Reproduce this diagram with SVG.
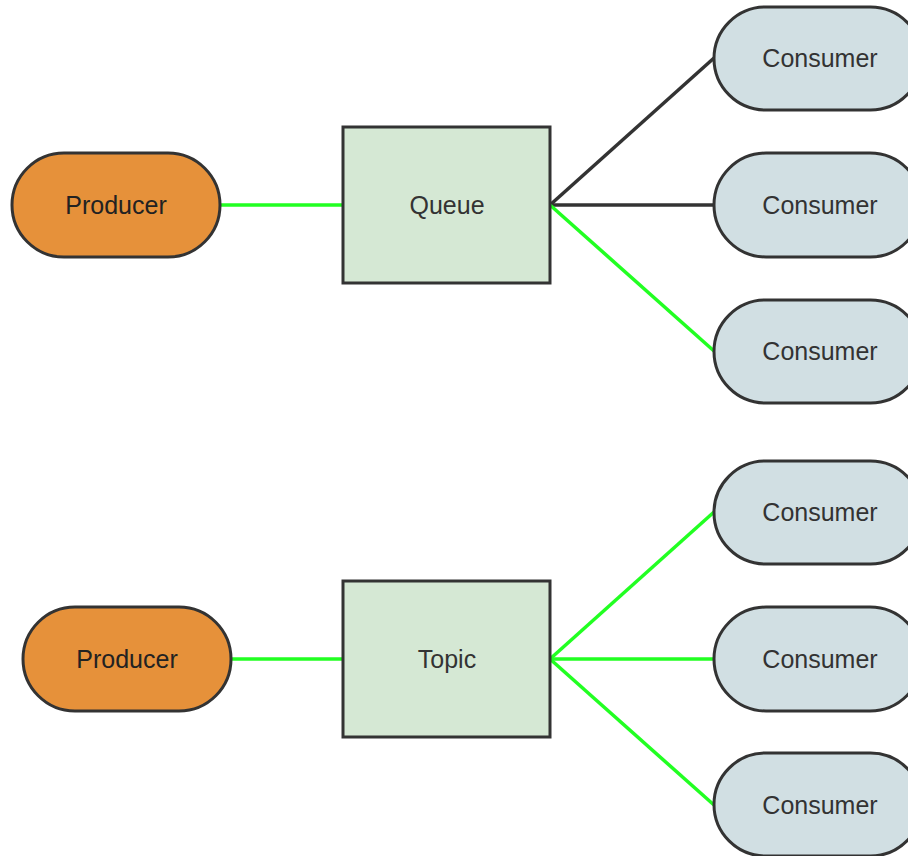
<svg xmlns="http://www.w3.org/2000/svg" width="908" height="856" viewBox="0 0 908 856">
  <style>
    .producer { fill: #e6913a; stroke: #333333; stroke-width: 3; }
    .box { fill: #d5e8d4; stroke: #333333; stroke-width: 3; }
    .consumer { fill: #d1dfe3; stroke: #333333; stroke-width: 3; }
    .label { font-family: "Liberation Sans", Arial, sans-serif; font-size: 25px; fill: #333333; text-anchor: middle; dominant-baseline: central; }
    .producer-label { fill: #222222; }
    .edge { fill: none; stroke-width: 3.5; }
    .active { stroke: #22ff22; }
    .idle { stroke: #333333; }
  </style>
  <rect width="908" height="856" fill="#ffffff"/>

  <!-- connectors -->
  <g id="connectors">
    <line class="edge active" x1="220" y1="205" x2="343" y2="205"/>
    <line class="edge idle" x1="550" y1="205" x2="714" y2="58"/>
    <line class="edge idle" x1="550" y1="205" x2="714" y2="205"/>
    <line class="edge active" x1="550" y1="205" x2="714" y2="351"/>
    <line class="edge active" x1="231" y1="659" x2="343" y2="659"/>
    <line class="edge active" x1="550" y1="659" x2="714" y2="512"/>
    <line class="edge active" x1="550" y1="659" x2="714" y2="659"/>
    <line class="edge active" x1="550" y1="659" x2="714" y2="805"/>
  </g>

  <!-- queue section -->
  <g id="producer-queue">
    <rect class="producer" x="12" y="153" width="208" height="104" rx="52"/>
    <text class="label producer-label" x="116" y="205">Producer</text>
  </g>
  <g id="queue">
    <rect class="box" x="343" y="127" width="207" height="156"/>
    <text class="label" x="447" y="205">Queue</text>
  </g>
  <g id="queue-consumer-1">
    <rect class="consumer" x="714" y="7" width="208" height="103" rx="51.5"/>
    <text class="label" x="820" y="58">Consumer</text>
  </g>
  <g id="queue-consumer-2">
    <rect class="consumer" x="714" y="153" width="208" height="104" rx="52"/>
    <text class="label" x="820" y="205">Consumer</text>
  </g>
  <g id="queue-consumer-3">
    <rect class="consumer" x="714" y="300" width="208" height="103" rx="51.5"/>
    <text class="label" x="820" y="351">Consumer</text>
  </g>

  <!-- topic section -->
  <g id="producer-topic">
    <rect class="producer" x="23" y="607" width="208" height="104" rx="52"/>
    <text class="label producer-label" x="127" y="659">Producer</text>
  </g>
  <g id="topic">
    <rect class="box" x="343" y="581" width="207" height="156"/>
    <text class="label" x="447" y="659">Topic</text>
  </g>
  <g id="topic-consumer-1">
    <rect class="consumer" x="714" y="461" width="208" height="103" rx="51.5"/>
    <text class="label" x="820" y="512">Consumer</text>
  </g>
  <g id="topic-consumer-2">
    <rect class="consumer" x="714" y="607" width="208" height="104" rx="52"/>
    <text class="label" x="820" y="659">Consumer</text>
  </g>
  <g id="topic-consumer-3">
    <rect class="consumer" x="714" y="753" width="208" height="103" rx="51.5"/>
    <text class="label" x="820" y="805">Consumer</text>
  </g>
</svg>
